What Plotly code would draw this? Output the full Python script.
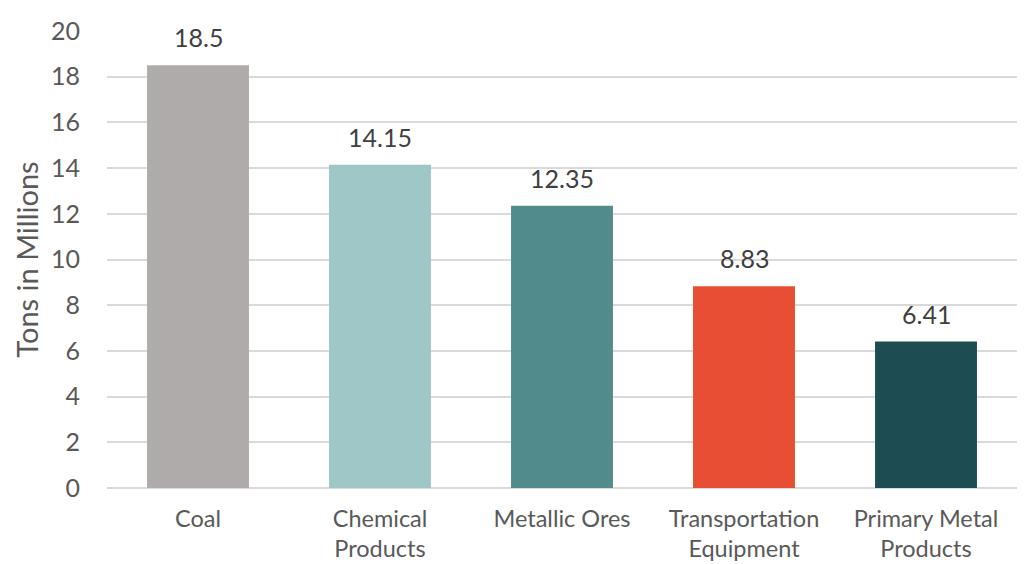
import plotly.graph_objects as go

categories = ["Coal", "Chemical<br>Products", "Metallic Ores", "Transportation<br>Equipment", "Primary Metal<br>Products"]
tons_millions = [18.5, 14.15, 12.35, 8.83, 6.41]
value_labels = ["18.5", "14.15", "12.35", "8.83", "6.41"]
bar_colors = ["#AFABAB", "#9FC7C7", "#518B8B", "#E84E34", "#1D4D53"]
y_ticks = [0, 2, 4, 6, 8, 10, 12, 14, 16, 18, 20]

FONT = "Lato, 'Open Sans', sans-serif"

fig = go.Figure(
    go.Bar(
        x=categories,
        y=tons_millions,
        marker=dict(color=bar_colors, line=dict(width=0)),
        width=0.56,
        hoverinfo="skip",
    )
)

for cat, val, lab in zip(categories, tons_millions, value_labels):
    fig.add_annotation(
        x=cat, y=val, text=lab, showarrow=False,
        yanchor="bottom", yshift=11,
        font=dict(family=FONT, size=25, color="#404040"),
    )

fig.update_layout(
    width=1029, height=564,
    margin=dict(l=107, r=12, t=31, b=76),
    paper_bgcolor="white", plot_bgcolor="white",
    showlegend=False,
    font=dict(family=FONT, color="#595959"),
)
fig.update_xaxes(
    showgrid=False, showline=False, ticks="", automargin=False,
    ticklabelstandoff=14,
    tickfont=dict(family=FONT, size=23.5, color="#595959"),
)
fig.update_yaxes(
    range=[0, 20], tickvals=y_ticks, automargin=False,
    showgrid=True, gridcolor="#D9D9D9", gridwidth=1.5,
    zeroline=True, zerolinecolor="#D9D9D9", zerolinewidth=1.5,
    showline=False, ticks="", ticklabelstandoff=26,
    tickfont=dict(family=FONT, size=25, color="#595959"),
    title=dict(text="Tons in Millions", font=dict(family=FONT, size=29, color="#595959"), standoff=3),
)

fig.write_html("out.html")
